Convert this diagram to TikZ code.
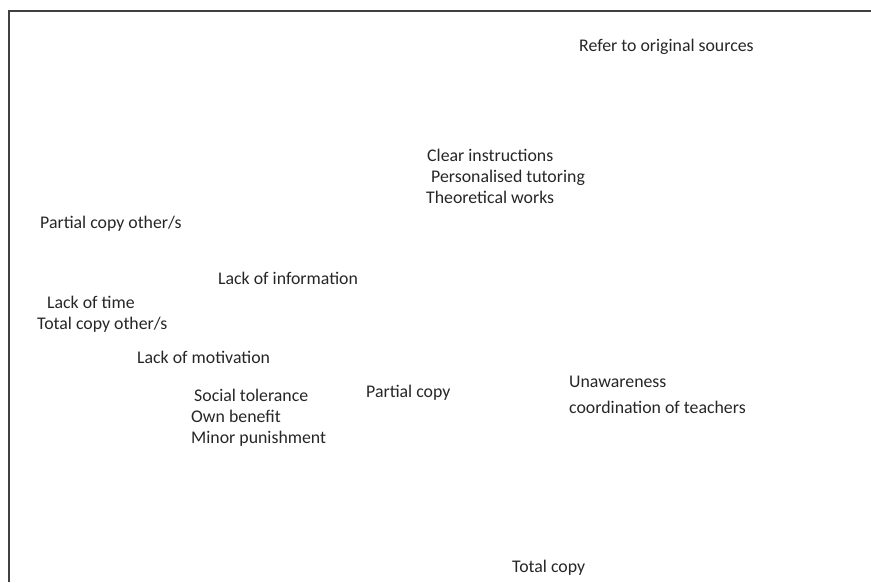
\documentclass[tikz,border=0pt]{standalone}
\usepackage{fontspec}
\setmainfont{Carlito}
\begin{document}
\begin{tikzpicture}[x=1pt, y=-1pt,
		lbl/.style={anchor=base west, inner sep=0pt, font=\fontsize{17.8}{20}\selectfont, text=black!85}]
		\useasboundingbox (0,0) rectangle (871,582);

		% Ramme (kun topp og venstre)
		\draw[line width=2.4pt, black!75] (9,582) -- (9,11) -- (871,11);

		% Oppe til hoyre
		\node[lbl] (refer) at (579,51) {Refer to original sources};

		% Midtgruppe oppe
		\node[lbl] (clear) at (427,161) {Clear instructions};
		\node[lbl] (tutor) at (431,182) {Personalised tutoring};
		\node[lbl] (theory) at (426,203) {Theoretical works};

		% Venstre side
		\node[lbl] (partother) at (40,228) {Partial copy other/s};
		\node[lbl] (info) at (218,284) {Lack of information};
		\node[lbl] (time) at (47,308) {Lack of time};
		\node[lbl] (totalother) at (37,329) {Total copy other/s};
		\node[lbl] (motiv) at (137,363) {Lack of motivation};

		% Nede i midten
		\node[lbl] (social) at (194,401) {Social tolerance};
		\node[lbl] (benefit) at (191,422) {Own benefit};
		\node[lbl] (punish) at (191,443) {Minor punishment};
		\node[lbl] (partial) at (366,397) {Partial copy};

		% Hoyre side
		\node[lbl] (unaware) at (569,387) {Unawareness};
		\node[lbl] (coord) at (569,413) {coordination of teachers};

		% Nederst
		\node[lbl] (total) at (512,572) {Total copy};
	\end{tikzpicture}
\end{document}
